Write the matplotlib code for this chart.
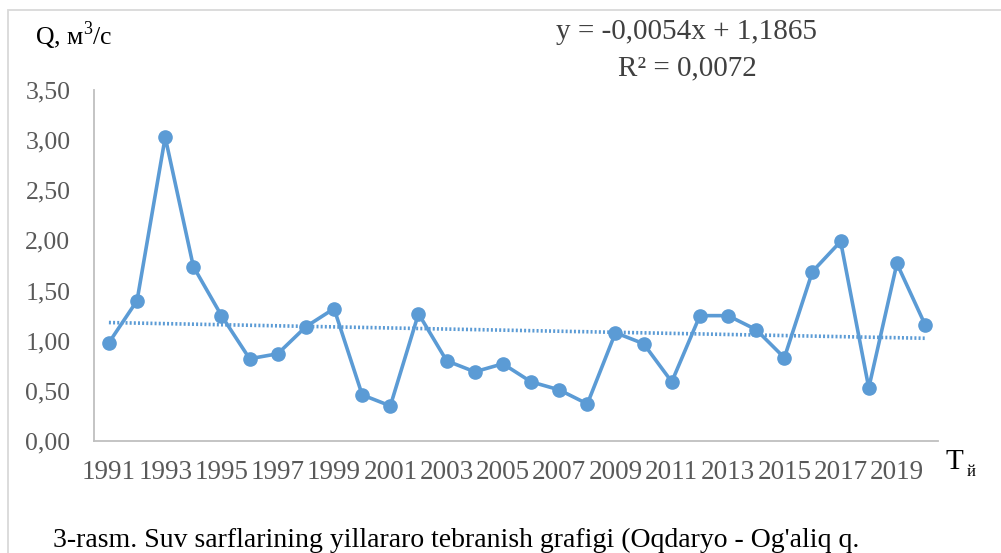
import numpy as np
import matplotlib
matplotlib.use("Agg")
import matplotlib.pyplot as plt
from matplotlib.patches import Rectangle

plt.rcParams['font.family'] = ['Liberation Serif', 'DejaVu Serif']
plt.rcParams['mathtext.fontset'] = 'custom'
plt.rcParams['mathtext.rm'] = 'Liberation Serif'

# annual discharge, m3/s
years = list(range(1991, 2021))
discharge = [0.98, 1.40, 3.03, 1.74, 1.25, 0.82, 0.87, 1.14, 1.32, 0.46,
             0.35, 1.27, 0.80, 0.69, 0.77, 0.59, 0.51, 0.37, 1.08, 0.97,
             0.59, 1.25, 1.25, 1.11, 0.83, 1.69, 1.99, 0.53, 1.77, 1.16]

# linear trend from the chart label
slope = -0.0054
intercept = 1.1865

yticks = [0.0, 0.5, 1.0, 1.5, 2.0, 2.5, 3.0, 3.5]
xticks = years[::2]

blue = '#5B9BD5'
W, H = 1001, 553

fig = plt.figure(figsize=(W / 100, H / 100), dpi=100)
ax = fig.add_axes([94 / W, 1 - 441 / H, (938 - 94) / W, (441 - 90) / H])

idx = np.arange(1, len(years) + 1)
trend = slope * idx + intercept
ax.plot(years, trend, color=blue, lw=2.6, ls=(0, (0.55, 0.6)))
ax.plot(years, discharge, color=blue, lw=2.6, marker='o', ms=9.5)

ax.set_xlim(1990.47, 2020.46)
ax.set_ylim(0, 3.5)
ax.set_yticks(yticks)
ax.set_yticklabels([f"{v:.2f}".replace('.', ',') for v in yticks])
ax.set_xticks(xticks)
ax.set_xticklabels([str(y) for y in xticks])
ax.tick_params(axis='x', length=0, labelsize=19.5, colors='#595959', pad=13.5)
ax.tick_params(axis='y', length=0, labelsize=18.5, colors='#595959', pad=17)
for s in ['top', 'right']:
    ax.spines[s].set_visible(False)
for s in ['left', 'bottom']:
    ax.spines[s].set_color('#BFBFBF')
    ax.spines[s].set_linewidth(1.3)

# chart frame
fig.add_artist(Rectangle((8 / W, -0.1), 1.2, 1 - 10 / H + 0.1,
                         transform=fig.transFigure, fill=False,
                         ec='#D9D9D9', lw=1.3))

def px(x, y):
    return x / W, 1 - y / H

fig.text(*px(35, 36), 'Q, м$^3$/с', fontsize=18.5, color='black', va='center')
fig.text(*px(687, 32), 'y = -0,0054x + 1,1865', fontsize=21, color='#404040',
         ha='center', va='center')
fig.text(*px(687, 68), 'R² = 0,0072', fontsize=21, color='#404040',
         ha='center', va='center')
fig.text(*px(945, 462), 'T', fontsize=21, color='black', va='center')
fig.text(*px(967, 472), 'й', fontsize=12, color='black', va='center')
fig.text(*px(53, 540), "3-rasm. Suv sarflarining yillararo tebranish grafigi (Oqdaryo - Og'aliq q.",
         fontsize=20, color='black', va='center')

fig.savefig('out.png', dpi=100)
